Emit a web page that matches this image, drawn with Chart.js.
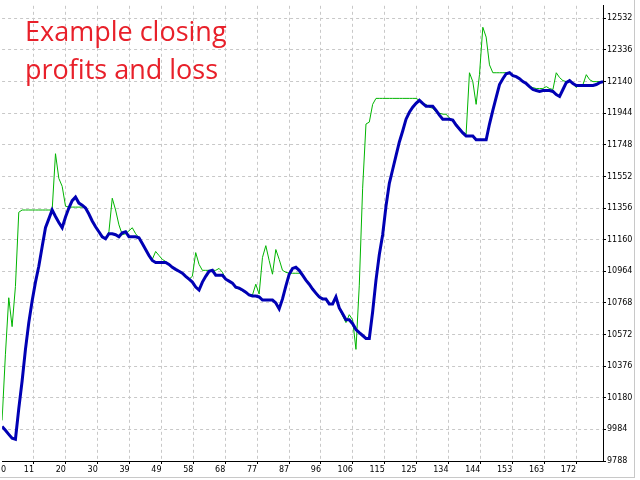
<!DOCTYPE html>
<html>
<head>
<meta charset="utf-8">
<script src="https://cdn.jsdelivr.net/npm/chart.js@4.4.0/dist/chart.umd.min.js"></script>
<style>
  html, body { margin: 0; padding: 0; background: #fff; }
  #wrap { position: relative; width: 640px; height: 480px; }
  #frame { position: absolute; left: 0; top: 0; width: 634px; height: 477px;
           border-right: 1px solid #c8c8c8; border-bottom: 1px solid #c8c8c8; pointer-events: none; }
  #title { position: absolute; left: 25px; top: 12px; color: #e8202a;
           font-family: "Open Sans", sans-serif; font-size: 27px; line-height: 38px; }
</style>
</head>
<body>
<div id="wrap">
  <canvas id="pnlChart" width="640" height="480"></canvas>
  <div id="frame"></div>
  <div id="title">Example closing<br>profits and loss</div>
</div>
<script>
// thick blue line
const balance = [
  10002, 9978, 9953, 9929, 9923, 10113, 10284, 10480, 10646, 10780,
  10897, 10995, 11117, 11234, 11289, 11344, 11304, 11267, 11234, 11301,
  11356, 11402, 11424, 11387, 11374, 11356, 11319, 11276, 11240, 11209,
  11178, 11166, 11197, 11197, 11191, 11178, 11203, 11209, 11178, 11178,
  11178, 11172, 11136, 11099, 11062, 11031, 11019, 11019, 11019, 11019,
  11007, 10989, 10976, 10964, 10952, 10933, 10915, 10897, 10866, 10848,
  10897, 10933, 10964, 10970, 10940, 10940, 10940, 10915, 10903, 10891,
  10866, 10860, 10848, 10835, 10817, 10811, 10811, 10805, 10786, 10786,
  10786, 10786, 10768, 10731, 10793, 10872, 10946, 10982, 10989, 10970,
  10940, 10909, 10884, 10854, 10829, 10805, 10793, 10793, 10762, 10762,
  10805, 10737, 10701, 10664, 10664, 10639, 10603, 10584, 10566, 10548,
  10548, 10713, 10909, 11068, 11191, 11368, 11509, 11595, 11681, 11766,
  11834, 11907, 11950, 11981, 12005, 12024, 12005, 11987, 11987, 11987,
  11962, 11932, 11907, 11907, 11907, 11901, 11871, 11846, 11822, 11803,
  11803, 11803, 11779, 11779, 11779, 11779, 11877, 11962, 12042, 12122,
  12158, 12189, 12195, 12177, 12171, 12158, 12140, 12128, 12109, 12091,
  12085, 12079, 12085, 12085, 12085, 12079, 12060, 12048, 12091, 12134,
  12146, 12128, 12116, 12116, 12116, 12116, 12116, 12116, 12122, 12134,
  12140
];

// thin green line
const equity = [
  10040, 10450, 10800, 10621, 10870, 11330, 11344, 11344, 11344, 11344,
  11344, 11344, 11344, 11344, 11344, 11344, 11693, 11540, 11491, 11368,
  11362, 11362, 11362, 11362, 11362, 11356, 11319, 11276, 11240, 11209,
  11178, 11166, 11209, 11417, 11344, 11252, 11191, 11197, 11215, 11234,
  11197, 11172, 11136, 11099, 11062, 11038, 11087, 11062, 11038, 11025,
  11007, 10989, 10976, 10964, 10952, 10933, 10915, 10933, 11080, 11007,
  10970, 10970, 10970, 10970, 10970, 10982, 10958, 10915, 10903, 10891,
  10860, 10854, 10842, 10829, 10817, 10817, 10884, 10823, 11050, 11123,
  11031, 10946, 11099, 11038, 10970, 10958, 10952, 10952, 10952, 10952,
  10940, 10909, 10884, 10848, 10823, 10799, 10793, 10786, 10762, 10762,
  10793, 10731, 10688, 10646, 10695, 10664, 10480, 10878, 11479, 11877,
  11889, 11999, 12036, 12036, 12036, 12036, 12036, 12036, 12036, 12036,
  12036, 12036, 12036, 12036, 12036, 12024, 11999, 11999, 11981, 11975,
  11950, 11944, 11938, 11938, 11914, 11901, 11877, 11852, 11828, 11815,
  12195, 12140, 11999, 12183, 12477, 12416, 12244, 12195, 12195, 12195,
  12195, 12195, 12195, 12177, 12171, 12158, 12140, 12128, 12109, 12103,
  12097, 12097, 12097, 12109, 12097, 12091, 12195, 12165, 12146, 12140,
  12140, 12128, 12103, 12122, 12122, 12183, 12152, 12140, 12140, 12140,
  12140
];

const xTickLabels = ['0', '11', '20', '30', '39', '49', '58', '68', '77', '87',
  '96', '106', '115', '125', '134', '144', '153', '163', '172'];
const yTicks = [9788, 9984, 10180, 10376, 10572, 10768, 10964, 11160, 11356,
  11552, 11748, 11944, 12140, 12336, 12532];

const lastBar = 180;
const gridStep = 9.552; // bars between vertical grid lines

const toPoints = arr => arr.map((v, i) => ({ x: i, y: v }));

const axisFont = { family: 'DejaVu Sans', size: 8 };

new Chart(document.getElementById('pnlChart'), {
  type: 'line',
  data: {
    datasets: [
      {
        data: toPoints(balance),
        borderColor: '#0000b4',
        borderWidth: 3,
        pointRadius: 0,
        tension: 0
      },
      {
        data: toPoints(equity),
        borderColor: '#00b400',
        borderWidth: 1,
        pointRadius: 0,
        tension: 0
      }
    ]
  },
  options: {
    responsive: false,
    animation: false,
    devicePixelRatio: 1,
    layout: { padding: 0 },
    plugins: { legend: { display: false }, tooltip: { enabled: false } },
    scales: {
      x: {
        type: 'linear',
        min: 0,
        max: lastBar,
        afterBuildTicks: scale => {
          scale.ticks = xTickLabels.map((l, k) => ({ value: k === 0 ? 1.2 : k * gridStep }));
        },
        afterFit: scale => { scale.height = 19; },
        ticks: {
          autoSkip: false,
          maxRotation: 0,
          align: 'end',
          padding: 1,
          color: '#000',
          font: axisFont,
          callback: (v, i) => xTickLabels[i]
        },
        grid: {
          color: ctx => ctx.index === 0 ? 'rgba(0,0,0,0)' : '#c8c8c8',
          tickColor: ctx => ctx.index === 0 ? 'rgba(0,0,0,0)' : '#000',
          tickLength: 3,
          tickBorderDash: []
        },
        border: { color: '#000', width: 1, dash: [3, 3] }
      },
      y: {
        position: 'right',
        min: 9788,
        max: 12610,
        afterBuildTicks: scale => {
          scale.ticks = yTicks.map(v => ({ value: v }));
        },
        afterFit: scale => { scale.width = 37; },
        ticks: {
          autoSkip: false,
          padding: 1,
          color: '#000',
          font: axisFont,
          callback: v => String(v)
        },
        grid: {
          color: '#c8c8c8',
          tickColor: '#000',
          tickLength: 3,
          tickBorderDash: []
        },
        border: { color: '#000', width: 1, dash: [3, 3] }
      }
    }
  }
});
</script>
</body>
</html>
